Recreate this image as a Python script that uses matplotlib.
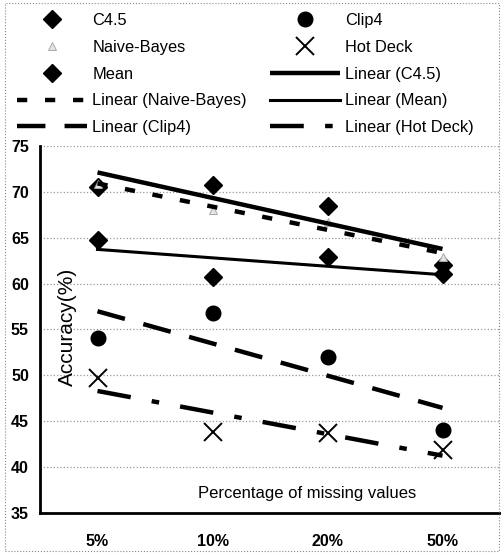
import numpy as np
import matplotlib
matplotlib.use("Agg")
import matplotlib.pyplot as plt
from matplotlib.patches import Rectangle

# data
categories = ["5%", "10%", "20%", "50%"]
c45 = [70.5, 70.8, 68.5, 62.0]
naive_bayes = [70.9, 68.0, 66.7, 62.9]
mean = [64.8, 60.7, 62.9, 61.0]
clip4 = [54.1, 56.8, 52.0, 44.0]
hot_deck = [49.7, 43.8, 43.7, 41.9]
y_ticks = [35, 40, 45, 50, 55, 60, 65, 70, 75]

plt.rcParams['font.family'] = ['Liberation Sans', 'DejaVu Sans']

fig = plt.figure(figsize=(5.01, 5.55), dpi=100)
ax = fig.add_axes([40 / 501, 1 - 513 / 555, 460 / 501, 367 / 555])

x = np.arange(1, len(categories) + 1)


def trend(values):
    # excel style "Linear" trendline across the categories
    k, b = np.polyfit(x, values, 1)
    xs = np.array([x[0], x[-1]])
    return xs, k * xs + b


# markers
m_c45, = ax.plot(x, c45, 'D', color='black', ms=9, ls='none', label='C4.5')
m_nb, = ax.plot(x, naive_bayes, '^', mfc='#e4e4e4', mec='#aaaaaa', mew=0.7, ms=6,
                ls='none', label='Naive-Bayes')
m_mean, = ax.plot(x, mean, 'D', color='black', ms=9, ls='none', label='Mean')
m_clip, = ax.plot(x, clip4, 'o', color='black', ms=10.5, ls='none', label='Clip4')
m_hot, = ax.plot(x, hot_deck, 'x', color='black', ms=13, mew=1.4, ls='none', label='Hot Deck')

# trendlines
xs, ys = trend(c45)
l_c45, = ax.plot(xs, ys, color='black', lw=3.2, solid_capstyle='butt', label='Linear (C4.5)')
xs, ys = trend(naive_bayes)
l_nb, = ax.plot(xs, ys, color='black', lw=3.2, dashes=(2.3, 4), label='Linear (Naive-Bayes)')
xs, ys = trend(mean)
l_mean, = ax.plot(xs, ys, color='black', lw=2.2, label='Linear (Mean)')
xs, ys = trend(clip4)
l_clip, = ax.plot(xs, ys, color='black', lw=3.2, dashes=(6.4, 4.3), label='Linear (Clip4)')
xs, ys = trend(hot_deck)
l_hot, = ax.plot(xs, ys, color='black', lw=3.2, dashes=(7.6, 4.8, 1.7, 4.8), label='Linear (Hot Deck)')

ax.set_xlim(0.5, len(categories) + 0.5)
ax.set_ylim(35, 75)
ax.set_xticks(x)
ax.set_xticklabels(categories, fontsize=11.5, fontweight='bold')
ax.set_yticks(y_ticks)
ax.set_yticklabels([str(t) for t in y_ticks], fontsize=11.5, fontweight='bold')
ax.tick_params(axis='x', length=0, pad=15)
ax.tick_params(axis='y', length=0, pad=8)

ax.yaxis.grid(True, linestyle=':', color='#999999', lw=0.9)
ax.set_axisbelow(True)
for side in ['top', 'right']:
    ax.spines[side].set_visible(False)
for side in ['left', 'bottom']:
    ax.spines[side].set_linewidth(2)

ax.text(0.059, 0.507, 'Accuracy(%)', transform=ax.transAxes, rotation=90,
        ha='center', va='center', fontsize=15)
ax.text(0.58, 0.054, 'Percentage of missing values', transform=ax.transAxes,
        ha='center', va='center', fontsize=12)

# legend laid out row by row like the original (matplotlib fills columns)
handles = [m_c45, m_nb, m_mean, l_nb, l_clip,
           m_clip, m_hot, l_c45, l_mean, l_hot]
fig.legend(handles=handles, labels=[h.get_label() for h in handles],
           ncol=2, loc='upper left', bbox_to_anchor=(17 / 501, 1 - 13 / 555),
           frameon=False, fontsize=11.8, handlelength=4.3, handletextpad=0.3,
           labelspacing=0.72, columnspacing=1.4, borderpad=0, borderaxespad=0)

# dotted chart-area border
fig.patches.append(Rectangle((5 / 501, 4 / 555), 494 / 501, 548 / 555,
                             transform=fig.transFigure, fill=False,
                             ls=':', lw=0.8, ec='#888888'))

fig.savefig('out.png', dpi=100)
